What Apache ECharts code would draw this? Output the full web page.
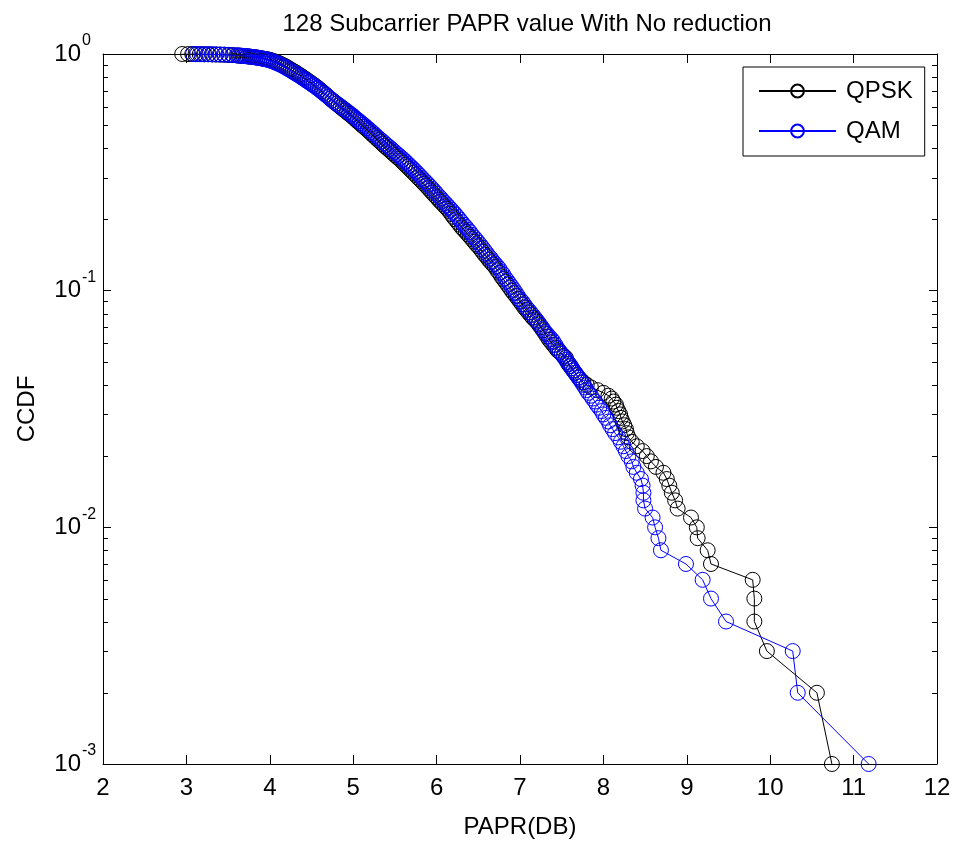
<!DOCTYPE html>
<html><head><meta charset="utf-8">
<script src="https://cdn.jsdelivr.net/npm/echarts@6/dist/echarts.min.js"></script>
<style>html,body{margin:0;padding:0;background:#fff}#c{width:957px;height:844px}</style>
</head><body><div id="c"></div>
<script>
const titleText = '128 Subcarrier PAPR value With No reduction';
const xName = 'PAPR(DB)';
const yName = 'CCDF';
const seriesNames = ['QPSK', 'QAM'];
const xTicks = [2, 3, 4, 5, 6, 7, 8, 9, 10, 11, 12];
const yDecades = [0.001, 0.01, 0.1, 1];
const yExponents = ['-3', '-2', '-1', '0'];

// QPSK: [PAPR dB, CCDF]
const qpskPoints = [
[2.95,1.000],[3.02,0.999],[3.07,0.999],[3.11,0.998],[3.16,0.998],[3.21,0.997],[3.26,0.997],[3.31,0.996],[3.36,0.995],[3.41,0.994],
[3.46,0.993],[3.51,0.991],[3.56,0.989],[3.61,0.986],[3.635,0.9845],[3.66,0.983],[3.685,0.981],[3.71,0.979],[3.735,0.977],[3.76,0.975],
[3.785,0.9725],[3.81,0.970],[3.835,0.9675],[3.86,0.965],[3.885,0.9615],[3.91,0.958],[3.935,0.9545],[3.96,0.951],[3.98,0.948],
[4.00,0.945],[4.025,0.939],[4.05,0.933],[4.075,0.926],[4.10,0.918],[4.125,0.910],[4.15,0.901],[4.175,0.892],[4.20,0.882],[4.225,0.871],
[4.25,0.861],[4.275,0.850],[4.30,0.840],[4.325,0.830],[4.35,0.819],[4.375,0.808],[4.40,0.797],[4.425,0.786],[4.45,0.775],[4.475,0.764],
[4.50,0.753],[4.525,0.742],[4.55,0.731],[4.575,0.720],[4.60,0.708],[4.625,0.696],[4.65,0.684],[4.675,0.672],[4.70,0.660],[4.725,0.648],
[4.75,0.637],[4.775,0.626],[4.80,0.616],[4.825,0.606],[4.85,0.596],[4.875,0.586],[4.90,0.577],[4.925,0.567],[4.95,0.558],[4.975,0.549],
[5.00,0.540],[5.025,0.530],[5.05,0.520],[5.075,0.511],[5.10,0.502],[5.125,0.493],[5.15,0.485],[5.175,0.476],[5.20,0.467],[5.225,0.458],
[5.25,0.450],[5.275,0.441],[5.30,0.433],[5.325,0.425],[5.35,0.417],[5.375,0.409],[5.40,0.402],[5.425,0.395],[5.45,0.388],[5.475,0.381],
[5.50,0.374],[5.525,0.367],[5.55,0.361],[5.575,0.354],[5.60,0.347],[5.625,0.340],[5.65,0.334],[5.675,0.327],[5.70,0.321],[5.725,0.314],
[5.75,0.308],[5.775,0.301],[5.80,0.295],[5.825,0.289],[5.85,0.283],[5.875,0.277],[5.90,0.271],[5.925,0.265],[5.95,0.259],[5.975,0.253],
[6.00,0.248],[6.025,0.242],[6.05,0.237],[6.075,0.232],[6.10,0.227],[6.125,0.222],[6.15,0.217],[6.175,0.211],[6.20,0.205],[6.225,0.200],
[6.25,0.195],[6.275,0.190],[6.30,0.185],[6.325,0.181],[6.35,0.177],[6.375,0.173],[6.40,0.169],[6.425,0.165],[6.45,0.161],[6.475,0.157],
[6.50,0.154],[6.525,0.150],[6.55,0.146],[6.575,0.142],[6.60,0.139],[6.625,0.135],[6.65,0.132],[6.675,0.129],[6.70,0.126],[6.725,0.122],
[6.75,0.119],[6.775,0.115],[6.80,0.112],[6.825,0.109],[6.85,0.106],[6.875,0.103],[6.90,0.100],[6.925,0.0975],[6.95,0.095],[6.975,0.0925],
[7.00,0.090],[7.025,0.0875],[7.05,0.085],[7.075,0.083],[7.10,0.081],[7.125,0.079],[7.15,0.077],[7.175,0.0755],[7.20,0.074],[7.225,0.072],
[7.25,0.070],[7.275,0.068],[7.30,0.066],[7.325,0.064],[7.35,0.062],[7.375,0.0605],[7.40,0.059],[7.425,0.0575],[7.45,0.056],[7.475,0.055],
[7.50,0.054],[7.525,0.053],[7.55,0.052],
[7.57,0.050],[7.58,0.049],[7.60,0.048],[7.62,0.047],[7.64,0.046],[7.66,0.045],[7.68,0.044],[7.70,0.043],[7.73,0.042],[7.76,0.041],
[7.80,0.040],[7.85,0.039],[7.93,0.038],[8.00,0.037],[8.06,0.036],[8.10,0.035],[8.12,0.034],[8.15,0.033],[8.16,0.032],[8.18,0.031],
[8.20,0.030],[8.21,0.029],[8.23,0.028],[8.25,0.027],[8.27,0.026],[8.28,0.025],[8.30,0.024],[8.34,0.023],[8.40,0.022],[8.47,0.021],
[8.52,0.020],[8.57,0.019],[8.63,0.018],[8.72,0.017],[8.76,0.016],[8.79,0.015],[8.82,0.014],[8.86,0.013],[8.89,0.012],[9.05,0.011],
[9.12,0.010],[9.13,0.009],[9.25,0.008],[9.29,0.007],[9.79,0.006],[9.81,0.005],[9.81,0.004],[9.96,0.003],[10.56,0.002],[10.74,0.001]
];

// QAM: [PAPR dB, CCDF]
const qamPoints = [
[3.08,1.000],[3.13,0.999],[3.18,0.999],[3.22,0.998],[3.27,0.998],[3.31,0.997],[3.35,0.996],[3.40,0.995],[3.45,0.994],[3.50,0.992],
[3.55,0.990],[3.60,0.987],[3.625,0.9855],[3.65,0.984],[3.675,0.982],[3.70,0.980],[3.725,0.978],[3.75,0.976],[3.775,0.9735],[3.80,0.971],
[3.825,0.968],[3.85,0.965],[3.875,0.962],[3.90,0.958],[3.925,0.954],[3.95,0.950],[3.975,0.945],
[4.00,0.940],[4.025,0.933],[4.05,0.926],[4.075,0.918],[4.10,0.910],[4.125,0.902],[4.15,0.893],[4.175,0.883],[4.20,0.873],[4.225,0.862],
[4.25,0.852],[4.275,0.841],[4.30,0.831],[4.325,0.821],[4.35,0.811],[4.375,0.800],[4.40,0.789],[4.425,0.778],[4.45,0.768],[4.475,0.757],
[4.50,0.747],[4.525,0.736],[4.55,0.726],[4.575,0.715],[4.60,0.704],[4.625,0.692],[4.65,0.681],[4.675,0.670],[4.70,0.659],[4.725,0.648],
[4.75,0.637],[4.775,0.627],[4.80,0.618],[4.825,0.609],[4.85,0.600],[4.875,0.591],[4.90,0.582],[4.925,0.573],[4.95,0.564],[4.975,0.555],
[5.00,0.547],[5.025,0.537],[5.05,0.528],[5.075,0.519],[5.10,0.511],[5.125,0.502],[5.15,0.494],[5.175,0.485],[5.20,0.477],[5.225,0.468],
[5.25,0.460],[5.275,0.451],[5.30,0.443],[5.325,0.435],[5.35,0.428],[5.375,0.420],[5.40,0.413],[5.425,0.406],[5.45,0.399],[5.475,0.392],
[5.50,0.385],[5.525,0.378],[5.55,0.372],[5.575,0.365],[5.60,0.359],[5.625,0.352],[5.65,0.345],[5.675,0.338],[5.70,0.332],[5.725,0.325],
[5.75,0.319],[5.775,0.312],[5.80,0.306],[5.825,0.299],[5.85,0.293],[5.875,0.287],[5.90,0.281],[5.925,0.275],[5.95,0.269],[5.975,0.263],
[6.00,0.257],[6.025,0.251],[6.05,0.246],[6.075,0.240],[6.10,0.235],[6.125,0.230],[6.15,0.225],[6.175,0.220],[6.20,0.215],[6.225,0.210],
[6.25,0.205],[6.275,0.200],[6.30,0.195],[6.325,0.190],[6.35,0.186],[6.375,0.181],[6.40,0.177],[6.425,0.172],[6.45,0.168],[6.475,0.164],
[6.50,0.160],[6.525,0.156],[6.55,0.152],[6.575,0.148],[6.60,0.144],[6.625,0.140],[6.65,0.137],[6.675,0.133],[6.70,0.130],[6.725,0.127],
[6.75,0.124],[6.775,0.120],[6.80,0.117],[6.825,0.113],[6.85,0.110],[6.875,0.107],[6.90,0.104],[6.925,0.101],[6.95,0.098],[6.975,0.095],
[7.00,0.092],[7.025,0.090],[7.05,0.0875],[7.075,0.085],[7.10,0.083],[7.125,0.081],[7.15,0.079],[7.175,0.077],[7.20,0.075],[7.225,0.073],
[7.25,0.071],[7.275,0.069],[7.30,0.067],[7.325,0.0655],[7.35,0.064],[7.375,0.0625],[7.40,0.061],[7.425,0.059],[7.45,0.057],[7.475,0.0555],
[7.50,0.054],[7.525,0.0525],[7.55,0.051],
[7.57,0.050],[7.59,0.049],[7.61,0.048],[7.62,0.047],[7.64,0.046],[7.66,0.045],[7.68,0.044],[7.70,0.043],[7.72,0.042],[7.74,0.041],
[7.76,0.040],[7.78,0.039],[7.80,0.038],[7.82,0.037],[7.85,0.036],[7.87,0.035],[7.90,0.034],[7.92,0.033],[7.95,0.032],[7.98,0.031],
[8.00,0.030],[8.03,0.029],[8.06,0.028],[8.08,0.027],[8.11,0.026],[8.14,0.025],[8.18,0.024],[8.21,0.023],[8.24,0.022],[8.27,0.021],
[8.30,0.020],[8.34,0.019],[8.36,0.018],[8.40,0.017],[8.45,0.016],[8.47,0.015],[8.48,0.014],[8.48,0.013],[8.50,0.012],[8.59,0.011],
[8.62,0.010],[8.66,0.009],[8.69,0.008],[8.99,0.007],[9.19,0.006],[9.29,0.005],[9.47,0.004],[10.27,0.003],[10.33,0.002],[11.18,0.001]
];

const FONT = 'Liberation Sans, Arial, Helvetica, sans-serif';

// minor log ticks 2..9 in each decade
const minorVals = [];
for (let d = 0; d < yDecades.length - 1; d++) for (let m = 2; m <= 9; m++) minorVals.push(yDecades[d] * m);

const chart = echarts.init(document.getElementById('c'), null, {renderer: 'canvas'});
const xMin = xTicks[0], xMax = xTicks[xTicks.length - 1];
const yMin = yDecades[0], yMax = yDecades[yDecades.length - 1];
const axisLineStyle = {color: '#000', width: 1};

chart.setOption({
  animation: false,
  backgroundColor: '#fff',
  title: {
    text: titleText, left: 522, top: 7, textAlign: 'center',
    textStyle: {fontFamily: FONT, fontSize: 24, fontWeight: 'normal', color: '#000'}
  },
  grid: {left: 103, right: 20, top: 54, bottom: 79, containLabel: false},
  legend: {
    data: seriesNames, orient: 'vertical', left: 743, top: 67,
    backgroundColor: '#fff', borderColor: '#000', borderWidth: 1,
    padding: [12, 12, 13, 15], itemGap: 16, itemWidth: 77, itemHeight: 16,
    textStyle: {fontFamily: FONT, fontSize: 24, color: '#000', padding: [0, 0, 0, 5]}
  },
  xAxis: [{
    type: 'value', min: xMin, max: xMax, interval: 1, position: 'bottom',
    name: xName, nameLocation: 'middle', nameGap: 51,
    nameTextStyle: {fontFamily: FONT, fontSize: 24, color: '#000'},
    axisLine: {show: true, onZero: false, lineStyle: axisLineStyle},
    axisTick: {show: true, inside: true, length: 9, lineStyle: axisLineStyle},
    axisLabel: {margin: 12, fontFamily: FONT, fontSize: 24, color: '#000', showMinLabel: true, showMaxLabel: true},
    splitLine: {show: false}
  }, {
    type: 'value', min: xMin, max: xMax, interval: 1, position: 'top',
    axisLine: {show: true, onZero: false, lineStyle: axisLineStyle},
    axisTick: {show: true, inside: true, length: 9, lineStyle: axisLineStyle},
    axisLabel: {show: false}, splitLine: {show: false}
  }],
  yAxis: [{
    type: 'log', logBase: 10, min: yMin, max: yMax, position: 'left',
    name: yName, nameLocation: 'middle', nameGap: 64, nameRotate: 90,
    nameTextStyle: {fontFamily: FONT, fontSize: 24, color: '#000'},
    axisLine: {show: true, onZero: false, lineStyle: axisLineStyle},
    axisTick: {show: true, inside: true, length: 8, lineStyle: axisLineStyle},
    axisLabel: {margin: 22, fontFamily: FONT, fontSize: 24, color: '#000', showMinLabel: true, showMaxLabel: true,
      formatter: () => '10'},
    splitLine: {show: false}
  }, {
    type: 'log', logBase: 10, min: yMin, max: yMax, position: 'right',
    axisLine: {show: true, onZero: false, lineStyle: axisLineStyle},
    axisTick: {show: true, inside: true, length: 8, lineStyle: axisLineStyle},
    axisLabel: {show: false}, splitLine: {show: false}
  }, {
    type: 'log', logBase: 10, min: yMin, max: yMax, position: 'left',
    axisLine: {show: false}, axisTick: {show: false}, splitLine: {show: false},
    axisLabel: {margin: 21, align: 'left', verticalAlign: 'bottom', lineHeight: 16, padding: [0, 0, 5, 0],
      fontFamily: FONT, fontSize: 16, color: '#000', showMinLabel: true, showMaxLabel: true,
      formatter: (v) => { const i = yDecades.findIndex(d => Math.abs(Math.log10(d) - Math.log10(v)) < 1e-6); return i >= 0 ? yExponents[i] : ''; }}
  }],
  series: [{
    name: seriesNames[0], type: 'line', data: qpskPoints,
    symbol: 'circle', symbolSize: 15, showAllSymbol: true,
    lineStyle: {color: '#000', width: 1},
    itemStyle: {color: 'rgba(0,0,0,0)', borderColor: '#000', borderWidth: 1},
    emphasis: {disabled: true}, z: 2
  }, {
    name: seriesNames[1], type: 'line', data: qamPoints,
    symbol: 'circle', symbolSize: 15, showAllSymbol: true,
    lineStyle: {color: '#0000ff', width: 1},
    itemStyle: {color: 'rgba(0,0,0,0)', borderColor: '#0000ff', borderWidth: 1},
    emphasis: {disabled: true}, z: 3
  }, {
    type: 'custom', coordinateSystem: 'cartesian2d', xAxisIndex: 0, yAxisIndex: 0,
    data: minorVals.map(v => [xMin, v]), silent: true, clip: false, z: 5,
    renderItem: function (params, api) {
      const yv = api.value(1);
      const pL = api.coord([xMin, yv]);
      const pR = api.coord([xMax, yv]);
      const y = Math.round(pL[1]) + 0.5;
      return {type: 'group', children: [
        {type: 'line', shape: {x1: pL[0], y1: y, x2: pL[0] + 5, y2: y}, style: {stroke: '#000', lineWidth: 1}},
        {type: 'line', shape: {x1: pR[0], y1: y, x2: pR[0] - 5, y2: y}, style: {stroke: '#000', lineWidth: 1}}
      ]};
    }
  }]
});
</script></body></html>
